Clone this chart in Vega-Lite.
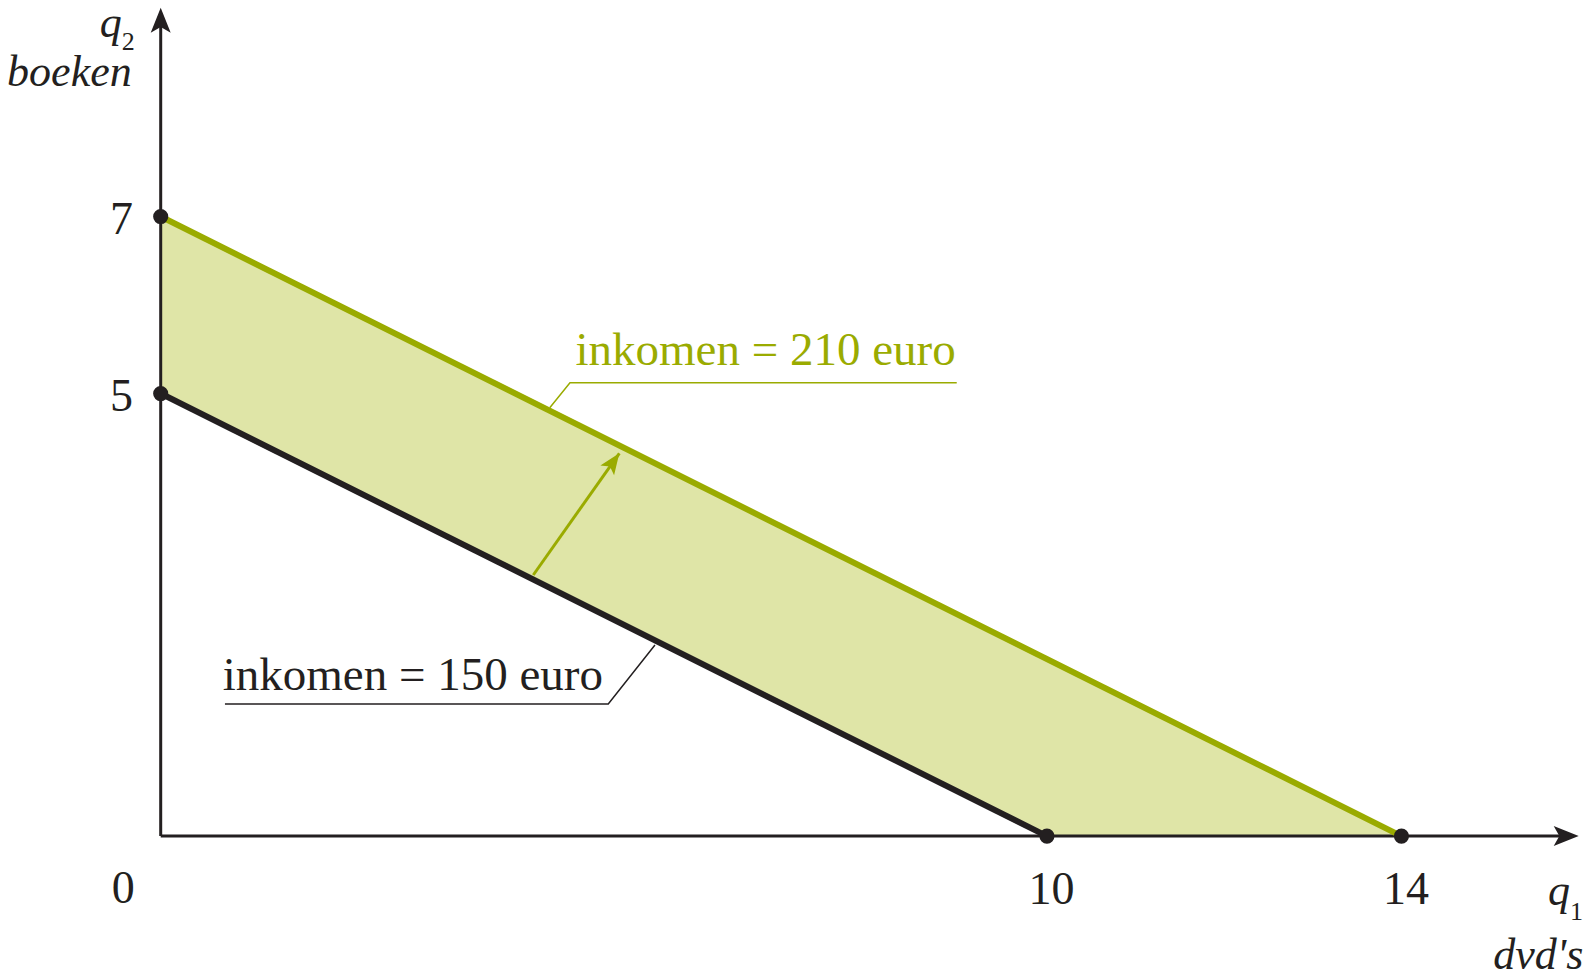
{
  "$schema": "https://vega.github.io/schema/vega-lite/v6.json",
  "width": 1418,
  "height": 832,
  "autosize": {"type": "none"},
  "padding": {"left": 160.7, "top": 4.1, "right": 16.3, "bottom": 140.9},
  "background": "white",
  "config": {"view": {"stroke": null}, "text": {"font": "Liberation Serif", "color": "#231f20"}},
  "datasets": {
    "band": [{"x": 0, "y": 7, "y2": 5}, {"x": 10, "y": 2, "y2": 0}, {"x": 14, "y": 0, "y2": 0}],
    "budget": [
      {"inkomen": 150, "x": 0, "y": 5}, {"inkomen": 150, "x": 10, "y": 0},
      {"inkomen": 210, "x": 0, "y": 7}, {"inkomen": 210, "x": 14, "y": 0}
    ],
    "axislines": [
      {"axis": "q1", "x": 0, "y": 0, "x2": 15.8, "y2": 0},
      {"axis": "q2", "x": 0, "y": 0, "x2": 0, "y2": 9.2}
    ],
    "axisends": [
      {"axis": "q1", "x": 16, "y": 0, "symbol": "q", "sub": "1", "name": "dvd's"},
      {"axis": "q2", "x": 0, "y": 9.36, "symbol": "q", "sub": "2", "name": "boeken"}
    ],
    "leaders": [
      {"inkomen": 210, "x": 4.39, "y": 4.84}, {"inkomen": 210, "x": 4.618, "y": 5.123}, {"inkomen": 210, "x": 8.982, "y": 5.123},
      {"inkomen": 150, "x": 0.725, "y": 1.4925}, {"inkomen": 150, "x": 5.05, "y": 1.4925}, {"inkomen": 150, "x": 5.577, "y": 2.16}
    ],
    "shift": [{"x": 4.204, "y": 2.95, "x2": 5.175, "y2": 4.325}],
    "labels": [
      {"inkomen": 210, "text": "inkomen = 210 euro", "x": 4.68, "y": 5.323},
      {"inkomen": 150, "text": "inkomen = 150 euro", "x": 0.70, "y": 1.651}
    ],
    "origin": [{"x": 0, "y": 0, "text": "0"}]
  },
  "encoding": {
    "x": {
      "field": "x", "type": "quantitative",
      "scale": {"domain": [0, 16], "nice": false, "zero": false},
      "axis": {"values": [10, 14], "domain": false, "ticks": false, "tickSize": 0, "grid": false, "title": null,
        "labelFont": "Liberation Serif", "labelFontSize": 46, "labelColor": "#231f20", "labelBaseline": "alphabetic",
        "labelAlign": "center", "labelPadding": 67, "labelOffset": 4, "labelFlush": false, "labelOverlap": false}
    },
    "y": {
      "field": "y", "type": "quantitative",
      "scale": {"domain": [0, 9.4], "nice": false, "zero": false},
      "axis": {"values": [5, 7], "domain": false, "ticks": false, "tickSize": 0, "grid": false, "title": null,
        "labelFont": "Liberation Serif", "labelFontSize": 46, "labelColor": "#231f20", "labelBaseline": "alphabetic",
        "labelAlign": "center", "labelPadding": 39.7, "labelOffset": 17, "labelFlush": false, "labelOverlap": false}
    }
  },
  "layer": [
    {"data": {"name": "band"}, "mark": {"type": "area", "color": "#dfe5a7", "opacity": 1}, "encoding": {"y2": {"field": "y2"}}},
    {"data": {"name": "axislines"}, "mark": {"type": "rule", "color": "#231f20", "strokeWidth": 3}, "encoding": {"x2": {"field": "x2"}, "y2": {"field": "y2"}}},
    {"data": {"name": "axisends"}, "transform": [{"filter": "datum.axis === 'q1'"}],
      "mark": {"type": "point", "shape": "M0,0 L-2,-0.8 L-1.55,0 L-2,0.8 Z", "size": 625, "angle": 0, "filled": true, "color": "#231f20", "opacity": 1}},
    {"data": {"name": "axisends"}, "transform": [{"filter": "datum.axis === 'q2'"}],
      "mark": {"type": "point", "shape": "M0,0 L-2,-0.8 L-1.55,0 L-2,0.8 Z", "size": 625, "angle": -90, "filled": true, "color": "#231f20", "opacity": 1}},
    {"data": {"name": "budget"}, "mark": {"type": "line", "strokeWidth": 6, "strokeCap": "butt"},
      "encoding": {"color": {"field": "inkomen", "type": "nominal", "scale": {"domain": [150, 210], "range": ["#231f20", "#9aab00"]}, "legend": null}}},
    {"data": {"name": "leaders"}, "mark": {"type": "line", "strokeWidth": 1.5},
      "encoding": {"color": {"field": "inkomen", "type": "nominal", "legend": null}}},
    {"data": {"name": "shift"}, "mark": {"type": "rule", "color": "#9aab00", "strokeWidth": 3}, "encoding": {"x2": {"field": "x2"}, "y2": {"field": "y2"}}},
    {"data": {"name": "shift"},
      "mark": {"type": "point", "shape": "M0,0 L-2,-0.8 L-1.55,0 L-2,0.8 Z", "size": 441, "angle": -54.75, "filled": true, "color": "#9aab00", "opacity": 1},
      "encoding": {"x": {"field": "x2", "type": "quantitative"}, "y": {"field": "y2", "type": "quantitative"}}},
    {"data": {"name": "budget"}, "mark": {"type": "point", "shape": "circle", "size": 230, "filled": true, "color": "#231f20", "opacity": 1}},
    {"data": {"name": "labels"}, "mark": {"type": "text", "align": "left", "baseline": "alphabetic", "fontSize": 47},
      "encoding": {"text": {"field": "text"}, "color": {"field": "inkomen", "type": "nominal", "legend": null}}},
    {"data": {"name": "origin"}, "mark": {"type": "text", "align": "center", "baseline": "alphabetic", "fontSize": 46, "dx": -37.4, "dy": 67},
      "encoding": {"text": {"field": "text"}}},
    {"data": {"name": "axisends"}, "transform": [{"filter": "datum.axis === 'q2'"}],
      "mark": {"type": "text", "align": "right", "baseline": "alphabetic", "fontSize": 44, "fontStyle": "italic", "dx": -39, "dy": 29.2},
      "encoding": {"text": {"field": "symbol"}}},
    {"data": {"name": "axisends"}, "transform": [{"filter": "datum.axis === 'q2'"}],
      "mark": {"type": "text", "align": "left", "baseline": "alphabetic", "fontSize": 26, "dx": -39, "dy": 42.4},
      "encoding": {"text": {"field": "sub"}}},
    {"data": {"name": "axisends"}, "transform": [{"filter": "datum.axis === 'q2'"}],
      "mark": {"type": "text", "align": "right", "baseline": "alphabetic", "fontSize": 44, "fontStyle": "italic", "dx": -29, "dy": 78.4},
      "encoding": {"text": {"field": "name"}}},
    {"data": {"name": "axisends"}, "transform": [{"filter": "datum.axis === 'q1'"}],
      "mark": {"type": "text", "align": "right", "baseline": "alphabetic", "fontSize": 44, "fontStyle": "italic", "dx": -8.7, "dy": 69},
      "encoding": {"text": {"field": "symbol"}}},
    {"data": {"name": "axisends"}, "transform": [{"filter": "datum.axis === 'q1'"}],
      "mark": {"type": "text", "align": "left", "baseline": "alphabetic", "fontSize": 26, "dx": -8.7, "dy": 84},
      "encoding": {"text": {"field": "sub"}}},
    {"data": {"name": "axisends"}, "transform": [{"filter": "datum.axis === 'q1'"}],
      "mark": {"type": "text", "align": "right", "baseline": "alphabetic", "fontSize": 44, "fontStyle": "italic", "dx": 4.6, "dy": 133},
      "encoding": {"text": {"field": "name"}}}
  ]
}
